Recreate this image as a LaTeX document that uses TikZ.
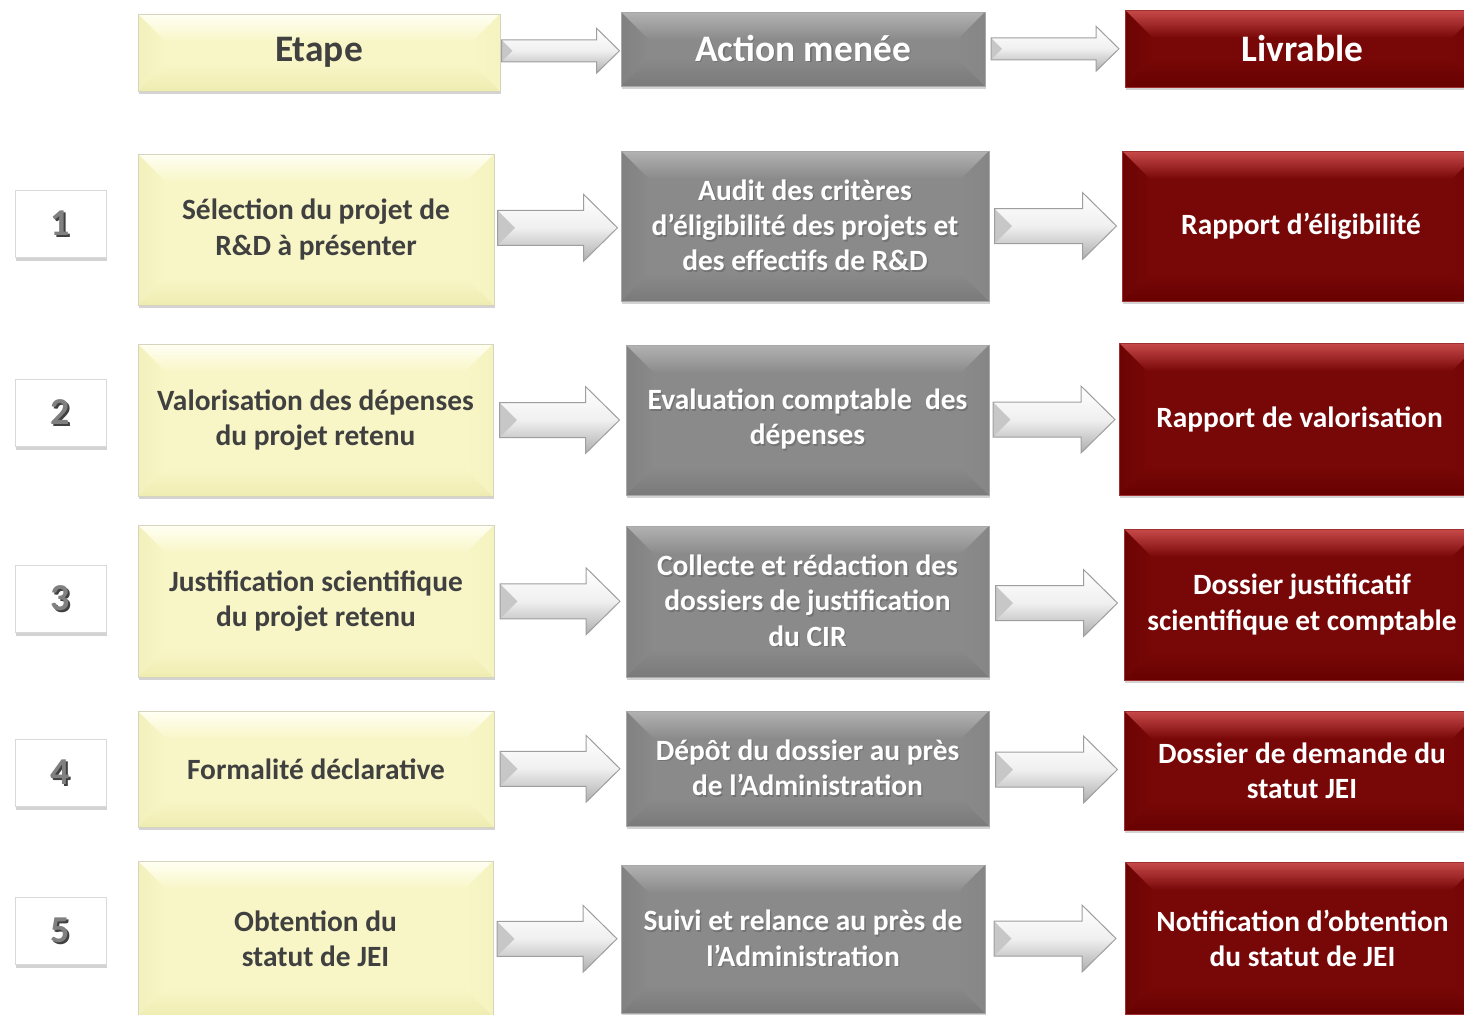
\documentclass[tikz,border=0pt]{standalone}
\usepackage{fontspec}
\setmainfont{Carlito}
\usetikzlibrary{shadows,calc}

\definecolor{ybase}{HTML}{F8F6C6}
\definecolor{ytop}{HTML}{FFFFF4}
\definecolor{yleft}{HTML}{F2F0BC}
\definecolor{ybot}{HTML}{EFECB2}
\definecolor{yright}{HTML}{F5F3C0}
\definecolor{yedge}{HTML}{D6D4BC}
\definecolor{ytext}{HTML}{404040}
\definecolor{gbase}{HTML}{8A8A8A}
\definecolor{gtop}{HTML}{B2B2B2}
\definecolor{gleft}{HTML}{818181}
\definecolor{gbot}{HTML}{7A7A7A}
\definecolor{gright}{HTML}{868686}
\definecolor{gedge}{HTML}{A8A8A8}
\definecolor{rbase}{HTML}{780707}
\definecolor{rtop}{HTML}{C84A4A}
\definecolor{rleft}{HTML}{6C0404}
\definecolor{rbot}{HTML}{680101}
\definecolor{rright}{HTML}{720606}
\definecolor{redge}{HTML}{A03030}

\newlength\bv
\setlength\bv{14pt}
\newcommand\shd[2][black!55]{\leavevmode\rlap{\hspace{0.7pt}\raisebox{-0.8pt}{\textcolor{#1}{#2}}}#2}
% block arrow centred on a named coordinate: #1 coordinate name, #2 half length, #3 shaft half width, #4 head half width, #5 head length
\newcommand\blockarr[5]{%
  \path[arrowbody] ([shift={(-#2,#3)}]#1) -- ([shift={(#2-#5,#3)}]#1) -- ([shift={(#2-#5,#4)}]#1)
     -- ([shift={(#2,0pt)}]#1) -- ([shift={(#2-#5,-#4)}]#1) -- ([shift={(#2-#5,-#3)}]#1)
     -- ([shift={(-#2,-#3)}]#1) -- cycle;
  \fill[black!22] ([shift={(-#2,#3)}]#1) -- ([shift={(-#2+#3,0pt)}]#1) -- ([shift={(-#2,-#3)}]#1) -- cycle;
  \draw[black!38, line width=0.5pt, line join=miter] ([shift={(-#2,#3)}]#1) -- ([shift={(#2-#5,#3)}]#1) -- ([shift={(#2-#5,#4)}]#1)
     -- ([shift={(#2,0pt)}]#1) -- ([shift={(#2-#5,-#4)}]#1) -- ([shift={(#2-#5,-#3)}]#1)
     -- ([shift={(-#2,-#3)}]#1) -- cycle;
}

\tikzset{
  bevelbox/.style n args={6}{fill=#1, draw=#6, line width=0.5pt,
    drop shadow={shadow xshift=0.6pt, shadow yshift=-1.6pt, opacity=0.35},
    path picture={
      \coordinate (NW) at (path picture bounding box.north west);
      \coordinate (NE) at (path picture bounding box.north east);
      \coordinate (SW) at (path picture bounding box.south west);
      \coordinate (SE) at (path picture bounding box.south east);
      \shade[top color=#2, bottom color=#1] (NW) -- (NE) -- ([shift={(-\bv,-\bv)}]NE) -- ([shift={(\bv,-\bv)}]NW) -- cycle;
      \shade[left color=#3, right color=#1] (NW) -- ([shift={(\bv,-\bv)}]NW) -- ([shift={(\bv,\bv)}]SW) -- (SW) -- cycle;
      \shade[bottom color=#4, top color=#1] (SW) -- (SE) -- ([shift={(-\bv,\bv)}]SE) -- ([shift={(\bv,\bv)}]SW) -- cycle;
      \shade[right color=#5, left color=#1] (NE) -- (SE) -- ([shift={(-\bv,\bv)}]SE) -- ([shift={(-\bv,-\bv)}]NE) -- cycle;
    }},
  bodyfont/.style={font=\fontsize{14.7}{17.6}\selectfont\bfseries},
  ybox/.style={bevelbox={ybase}{ytop}{yleft}{ybot}{yright}{yedge}, text=ytext, align=center, bodyfont},
  gbox/.style={bevelbox={gbase}{gtop}{gleft}{gbot}{gright}{gedge}, text=white, align=center, bodyfont},
  rbox/.style={bevelbox={rbase}{rtop}{rleft}{rbot}{rright}{redge}, text=white, align=center, bodyfont},
  headfont/.style={font=\fontsize{18.7}{21}\selectfont\bfseries},
  numbox/.style={fill=white, draw=black!15, line width=0.5pt,
    minimum width=45.5pt, minimum height=33.5pt, text=black!50,
    drop shadow={shadow xshift=0.6pt, shadow yshift=-1.6pt, opacity=0.35},
    font=\fontsize{19}{22}\selectfont\bfseries},
  arrowbody/.style={top color=white, bottom color=black!32, middle color=black!6},
}

\begin{document}
\begin{tikzpicture}[x=0.5pt,y=-0.5pt]
\useasboundingbox (0,0) rectangle (1464,1014);
\clip (0,0) rectangle (1464,1014);

% header
\node[ybox, headfont, minimum width=181pt, minimum height=38.5pt] (h1) at (319,52.5) {Etape};
\node[gbox, headfont, minimum width=182pt, minimum height=37pt] (h2) at (803,49) {\shd{Action menée}};
\node[rbox, headfont, minimum width=177.5pt, minimum height=38.5pt] (h3) at (1302.5,48.5) {Livrable};

% row 1
\node[numbox] (n1) at (60.5,224) {\shd[black!75]{1}};
\node[ybox, minimum width=178pt, minimum height=75.5pt] (y1) at (316,229.5) {Sélection du projet de\\R\&D à présenter};
\node[gbox, minimum width=184pt, minimum height=75pt] (g1) at (805,226) {\shd{Audit des critères}\\\shd{d’éligibilité des projets et}\\\shd{des effectifs de R\&D}};
\node[rbox, minimum width=179pt, minimum height=75pt] (r1) at (1301,226) {Rapport d’éligibilité};

% row 2
\node[numbox] (n2) at (60.5,413) {\shd[black!75]{2}};
\node[ybox, minimum width=177.5pt, minimum height=76pt] (y2) at (315.5,420) {Valorisation des dépenses\\du projet retenu};
\node[gbox, minimum width=181.5pt, minimum height=75pt] (g2) at (807.5,420) {\shd{Evaluation comptable\ \ des}\\\shd{dépenses}};
\node[rbox, minimum width=180.5pt, minimum height=76pt] (r2) at (1299.5,419) {Rapport de valorisation};

% row 3
\node[numbox] (n3) at (60.5,599) {\shd[black!75]{3}};
\node[ybox, minimum width=178pt, minimum height=76pt] (y3) at (316,601) {Justification scientifique\\du projet retenu};
\node[gbox, minimum width=181.5pt, minimum height=75.5pt] (g3) at (807.5,601.5) {\shd{Collecte et rédaction des}\\\shd{dossiers de justification}\\\shd{du CIR}};
\node[rbox, minimum width=178pt, minimum height=75.5pt] (r3) at (1302,604.5) {Dossier justificatif\\scientifique et comptable};

% row 4
\node[numbox] (n4) at (60.5,773) {\shd[black!75]{4}};
\node[ybox, minimum width=178pt, minimum height=58pt] (y4) at (316,769) {Formalité déclarative};
\node[gbox, minimum width=181.5pt, minimum height=57.5pt] (g4) at (807.5,768.5) {\shd{Dépôt du dossier au près}\\\shd{de l’Administration}};
\node[rbox, minimum width=178pt, minimum height=59.5pt] (r4) at (1302,770.5) {Dossier de demande du\\statut JEI};

% row 5
\node[numbox] (n5) at (60.5,931) {\shd[black!75]{5}};
\node[ybox, minimum width=177.5pt, minimum height=77.5pt] (y5) at (315.5,938.5) {Obtention du\\statut de JEI};
\node[gbox, minimum width=182pt, minimum height=74pt] (g5) at (803,939) {\shd{Suivi et relance au près de}\\\shd{l’Administration}};
\node[rbox, minimum width=177.5pt, minimum height=76pt] (r5) at (1302.5,938) {Notification d’obtention\\du statut de JEI};

% arrows (block arrows between the boxes)
\coordinate (ha1) at ($(h1.east)!0.5!(h2.west)$);
\coordinate (ha2) at ($(h2.east)!0.5!(h3.west)$);
\blockarr{ha1}{29.5pt}{5.5pt}{11.25pt}{11.5pt}
\blockarr{ha2}{32pt}{5.5pt}{11.25pt}{11.5pt}
\foreach \i in {1,...,5}{
  \coordinate (a\i) at ($(y\i.east)!0.5!(g\i.west)$);
  \coordinate (b\i) at ($(g\i.east)!0.5!(r\i.west)$);
  \blockarr{a\i}{30pt}{8.75pt}{16.75pt}{17pt}
  \blockarr{b\i}{30.5pt}{8.75pt}{16.75pt}{17pt}
}
\end{tikzpicture}
\end{document}
